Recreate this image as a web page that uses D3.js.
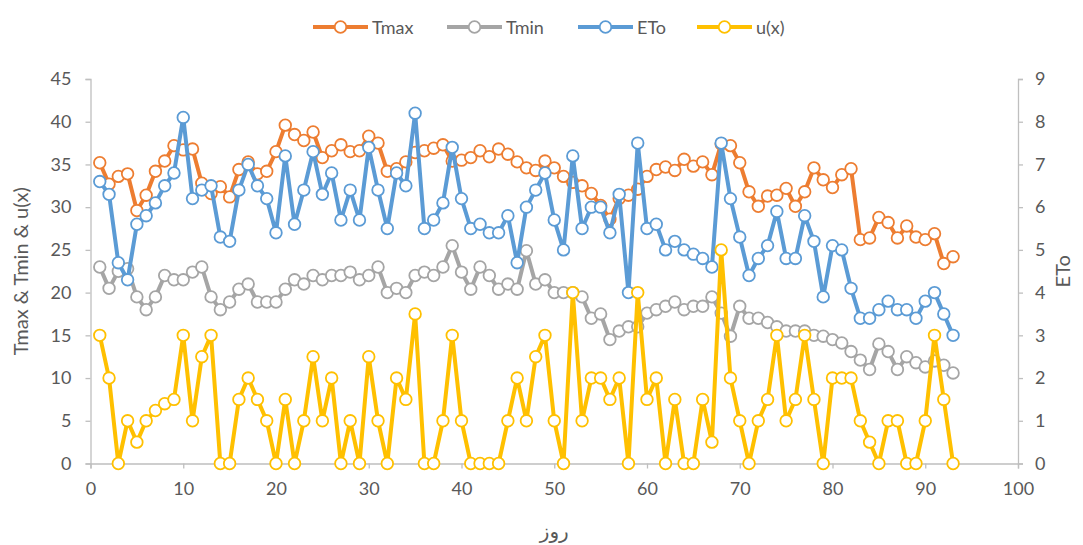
<!DOCTYPE html>
<html>
<head>
<meta charset="utf-8">
<script src="https://cdn.jsdelivr.net/npm/d3@7"></script>
<style>
  body { margin: 0; background: #fff; }
  svg { display: block; }
  text { font-family: Lato, "Open Sans", "DejaVu Sans", sans-serif; fill: #595959; }
</style>
</head>
<body>
<svg id="chart" width="1083" height="545"></svg>
<script>
const days = d3.range(1, 94);

const tmax = [35.2,32.7,33.6,33.9,29.6,31.4,34.2,35.4,37.2,36.7,
  36.8,32.8,31.6,32.4,31.2,34.4,35.3,33.9,34.2,36.5,
  39.6,38.5,37.8,38.8,35.8,36.6,37.3,36.5,36.6,38.3,
  37.5,34.2,34.5,35.3,36.4,36.6,36.9,37.3,35.4,35.5,
  35.8,36.6,35.9,36.8,36.2,35.3,34.6,34.3,35.4,34.6,
  33.6,32.9,32.5,31.6,30.2,28.6,31.0,31.4,32.1,33.6,
  34.4,34.7,34.3,35.6,34.8,35.3,33.8,37.4,37.2,35.2,
  31.8,30.1,31.3,31.4,32.2,30.1,31.8,34.6,33.2,32.3,
  33.8,34.5,26.2,26.4,28.8,28.2,26.4,27.8,26.5,26.2,
  26.9,23.4,24.2];

const tmin = [23.0,20.5,22.5,22.8,19.5,18.0,19.5,22.0,21.5,21.5,
  22.4,23.0,19.5,18.0,18.9,20.4,21.0,18.9,18.9,18.9,
  20.4,21.5,21.0,22.0,21.5,22.0,22.0,22.4,21.5,22.0,
  23.0,20.0,20.5,20.0,22.0,22.4,22.0,23.0,25.5,22.4,
  20.4,23.0,22.0,20.4,21.0,20.4,24.9,21.0,21.5,20.0,
  20.0,20.0,19.5,17.0,17.5,14.5,15.5,16.0,16.0,17.6,
  18.0,18.4,18.9,18.0,18.4,18.4,19.5,17.6,14.9,18.4,
  17.0,17.0,16.5,16.0,15.5,15.5,15.5,15.0,14.9,14.5,
  14.1,13.1,12.1,11.0,14.0,13.1,11.0,12.5,11.8,11.3,
  12.0,11.5,10.6];

const eto = [6.6,6.3,4.7,4.3,5.6,5.8,6.1,6.5,6.8,8.1,
  6.2,6.4,6.5,5.3,5.2,6.4,7.0,6.5,6.2,5.4,
  7.2,5.6,6.4,7.3,6.3,6.8,5.7,6.4,5.7,7.4,
  6.4,5.5,6.8,6.5,8.2,5.5,5.7,6.1,7.4,6.2,
  5.5,5.6,5.4,5.4,5.8,4.7,6.0,6.4,6.8,5.7,
  5.0,7.2,5.5,6.0,6.0,5.4,6.3,4.0,7.5,5.5,
  5.6,5.0,5.2,5.0,4.9,4.8,4.6,7.5,6.2,5.3,
  4.4,4.8,5.1,5.9,4.8,4.8,5.8,5.2,3.9,5.1,
  5.0,4.1,3.4,3.4,3.6,3.8,3.6,3.6,3.4,3.8,
  4.0,3.5,3.0];

const ux = [15,10,0,5,2.5,5,6.2,7,7.5,15,
  5,12.5,15,0,0,7.5,10,7.5,5,0,
  7.5,0,5,12.5,5,10,0,5,0,12.5,
  5,0,10,7.5,17.5,0,0,5,15,5,
  0,0,0,0,5,10,5,12.5,15,5,
  0,20,5,10,10,7.5,10,0,20,7.5,
  10,0,7.5,0,0,7.5,2.5,25,10,5,
  0,5,7.5,15,5,7.5,15,7.5,0,10,
  10,10,5,2.5,0,5,5,0,0,5,
  15,7.5,0];

const seriesNames = ["Tmax", "Tmin", "ETo", "u(x)"];
const seriesColors = ["#ED7D31", "#A5A5A5", "#5B9BD5", "#FFC000"];
const xTicks = [0,10,20,30,40,50,60,70,80,90,100];
const yLeftTicks = [0,5,10,15,20,25,30,35,40,45];
const yRightTicks = [0,1,2,3,4,5,6,7,8,9];

const svg = d3.select("#chart");
const plotL = 90.5, plotR = 1018, plotT = 79, plotB = 463.5;

const x = d3.scaleLinear().domain([0, 100]).range([plotL, plotR]);
const yL = d3.scaleLinear().domain([0, 45]).range([plotB, plotT]);
const yR = d3.scaleLinear().domain([0, 9]).range([plotB, plotT]);

const axisColor = "#bfbfbf";

const gx = svg.append("g").attr("transform", `translate(0,${plotB})`)
  .call(d3.axisBottom(x).tickValues(xTicks).tickSize(5).tickPadding(14));
const gl = svg.append("g").attr("transform", `translate(${plotL},0)`)
  .call(d3.axisLeft(yL).tickValues(yLeftTicks).tickSize(5).tickPadding(14));
const gr = svg.append("g").attr("transform", `translate(${plotR},0)`)
  .call(d3.axisRight(yR).tickValues(yRightTicks).tickSize(5).tickPadding(12));
[gx, gl, gr].forEach(g => {
  g.selectAll("path.domain").attr("stroke", axisColor).attr("stroke-width", 1.3);
  g.selectAll(".tick line").attr("stroke", axisColor).attr("stroke-width", 1.3);
  g.selectAll(".tick text").attr("fill", "#595959").style("font-size", "18px")
    .style("font-family", "Lato, 'Open Sans', sans-serif");
});

const seriesData = [
  { vals: tmax, y: yL },
  { vals: tmin, y: yL },
  { vals: eto, y: yR },
  { vals: ux, y: yL }
];

seriesData.forEach((s, i) => {
  const pts = days.map((d, j) => [d, s.vals[j]]);
  const line = d3.line().x(p => x(p[0])).y(p => s.y(p[1]));
  const g = svg.append("g");
  g.append("path").datum(pts)
    .attr("d", line)
    .attr("fill", "none")
    .attr("stroke", seriesColors[i])
    .attr("stroke-width", 4)
    .attr("stroke-linejoin", "round")
    .attr("stroke-linecap", "round");
  g.selectAll("circle").data(pts).join("circle")
    .attr("cx", p => x(p[0]))
    .attr("cy", p => s.y(p[1]))
    .attr("r", 5.8)
    .attr("fill", "#fff")
    .attr("stroke", seriesColors[i])
    .attr("stroke-width", 1.8);
});

svg.append("text")
  .attr("transform", `translate(28,${(plotT + plotB) / 2}) rotate(-90)`)
  .attr("text-anchor", "middle")
  .style("font-size", "20px")
  .text("Tmax & Tmin & u(x)");

svg.append("text")
  .attr("transform", `translate(1070,${(plotT + plotB) / 2}) rotate(-90)`)
  .attr("text-anchor", "middle")
  .style("font-size", "20px")
  .text("ETo");

svg.append("text")
  .attr("x", (plotL + plotR) / 2)
  .attr("y", 538)
  .attr("text-anchor", "middle")
  .style("font-size", "20px")
  .style("font-family", "'DejaVu Sans', sans-serif")
  .text("روز");

const legendX = [313, 447, 578, 697];
const legend = svg.append("g");
seriesNames.forEach((name, i) => {
  const lx = legendX[i], ly = 27;
  legend.append("line")
    .attr("x1", lx).attr("x2", lx + 55)
    .attr("y1", ly).attr("y2", ly)
    .attr("stroke", seriesColors[i]).attr("stroke-width", 4);
  legend.append("circle")
    .attr("cx", lx + 27.5).attr("cy", ly).attr("r", 5.8)
    .attr("fill", "#fff").attr("stroke", seriesColors[i]).attr("stroke-width", 1.8);
  legend.append("text")
    .attr("x", lx + 59).attr("y", ly + 6.5)
    .style("font-size", "18px")
    .text(name);
});
</script>
</body>
</html>
